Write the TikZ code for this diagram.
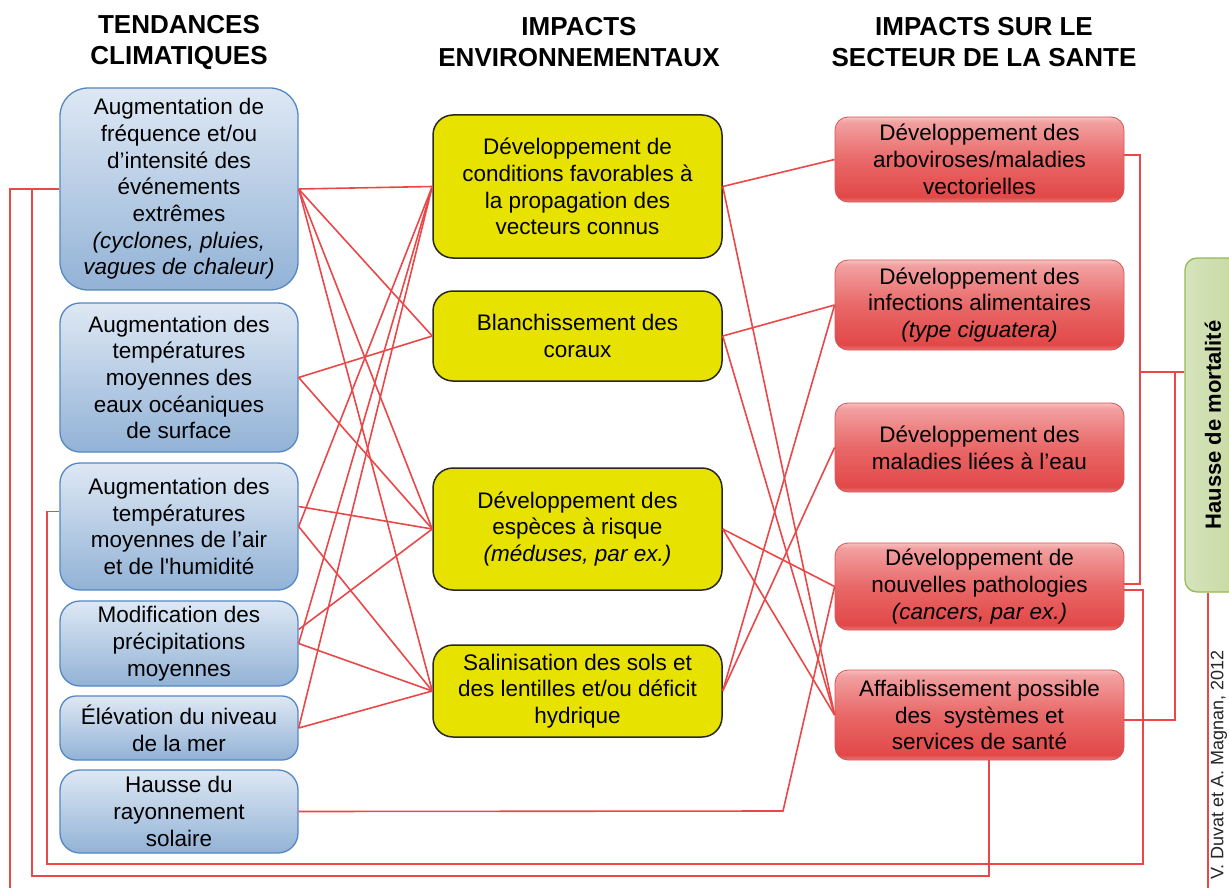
\documentclass[tikz,border=0pt]{standalone}
\usepackage{fontspec}
\setmainfont{Liberation Sans}
\definecolor{lnk}{RGB}{234,72,72}
\definecolor{ltop}{RGB}{222,232,244}
\definecolor{lbot}{RGB}{146,178,214}
\definecolor{lborder}{RGB}{84,136,196}
\definecolor{yel}{RGB}{232,226,0}
\definecolor{mborder}{RGB}{40,40,30}
\definecolor{rborder}{RGB}{214,86,86}
\definecolor{rgB}{RGB}{236,118,118}
\definecolor{rgC}{RGB}{226,72,72}
\definecolor{rgM}{RGB}{233,104,104}
\definecolor{rgT}{RGB}{242,160,160}
\definecolor{rgTT}{RGB}{247,192,192}
\definecolor{gtop}{RGB}{214,228,188}
\definecolor{gbot}{RGB}{196,215,156}
\definecolor{gborder}{RGB}{150,186,86}
\pgfdeclareverticalshading{redglass}{100bp}{color(0bp)=(rgB); color(25bp)=(rgB); color(28bp)=(rgC); color(50bp)=(rgM); color(72bp)=(rgT); color(75bp)=(rgTT); color(100bp)=(rgTT)}
\tikzset{
  basebox/.style={rectangle, align=center, inner sep=0pt, text=black,
    font=\fontsize{22.5}{26.7}\selectfont},
  lbox/.style={basebox, rounded corners=20pt, draw=lborder, line width=1.3pt,
    top color=ltop, bottom color=lbot, minimum width=238pt},
  mbox/.style={basebox, rounded corners=20pt, draw=mborder, line width=1.5pt,
    fill=yel, minimum width=289pt},
  rbox/.style={basebox, rounded corners=13pt, draw=rborder, line width=0.8pt,
    shade, shading=redglass, minimum width=289pt},
  gbox/.style={rectangle, rounded corners=12pt, draw=gborder, line width=1.3pt,
    left color=gtop, right color=gbot, inner sep=0pt},
  hdr/.style={align=center, inner sep=0pt, font=\bfseries\fontsize{26}{31}\selectfont},
  link/.style={draw=lnk, line width=1.6pt},
}
\begin{document}
\begin{tikzpicture}[x=1pt,y=-1pt]
\useasboundingbox (0,0) rectangle (1229,888);
\clip (0,0) rectangle (1229,888);
\fill[white] (0,0) rectangle (1229,888);

% headers
\node[hdr] (h1) at (179,42) {TENDANCES\\CLIMATIQUES};
\node[hdr] (h2) at (579,42) {IMPACTS\\ENVIRONNEMENTAUX};
\node[hdr] (h3) at (984,42) {IMPACTS SUR LE\\SECTEUR DE LA SANTE};

% left column
\node[lbox, minimum height=202pt, rounded corners=28pt] (L1) at (179,189)
  {Augmentation de\\fréquence et/ou\\d’intensité des\\événements\\extrêmes\\\textit{(cyclones, pluies,}\\\textit{vagues de chaleur)}};
\node[lbox, minimum height=149pt] (L2) at (179,377.5)
  {Augmentation des\\températures\\moyennes des\\eaux océaniques\\de surface};
\node[lbox, minimum height=127pt] (L3) at (179,526.5)
  {Augmentation des\\températures\\moyennes de l’air\\et de l\textquotesingle humidité};
\node[lbox, minimum height=85pt] (L4) at (179,643.5)
  {Modification des\\précipitations\\moyennes};
\node[lbox, minimum height=64pt, rounded corners=16pt] (L5) at (179,728)
  {Élévation du niveau\\de la mer};
\node[lbox, minimum height=83pt] (L6) at (179,811.5)
  {Hausse du\\rayonnement\\solaire};

% middle column
\node[mbox, minimum height=143pt] (M1) at (577.5,186.5)
  {Développement de\\conditions favorables à\\la propagation des\\vecteurs connus};
\node[mbox, minimum height=90pt] (M2) at (577.5,336)
  {Blanchissement des\\coraux};
\node[mbox, minimum height=122pt] (M3) at (577.5,529)
  {Développement des\\espèces à risque\\\textit{(méduses, par ex.)}};
\node[mbox, minimum height=92pt] (M4) at (577.5,691)
  {Salinisation des sols et\\des lentilles et/ou déficit\\hydrique};

% right column
\node[rbox, minimum height=85pt] (R1) at (979.5,159.5)
  {Développement des\\arboviroses/maladies\\vectorielles};
\node[rbox, minimum height=90pt] (R2) at (979.5,305)
  {Développement des\\infections alimentaires\\\textit{(type ciguatera)}};
\node[rbox, minimum height=89pt] (R3) at (979.5,447.5)
  {Développement des\\maladies liées à l’eau};
\node[rbox, minimum height=87pt] (R4) at (979.5,586.5)
  {Développement de\\nouvelles pathologies\\\textit{(cancers, par ex.)}};
\node[rbox, minimum height=90pt] (R5) at (979.5,715)
  {Affaiblissement possible\\des\ \ systèmes et\\services de santé};

% mortality box
\node[gbox, minimum width=62pt, minimum height=334pt] (G) at (1216,425) {};
\node[rotate=90, inner sep=0pt, font=\bfseries\fontsize{22}{26}\selectfont] (Gt) at (1213,425) {Hausse de mortalité};

% credit
\node[rotate=90, inner sep=0pt, text=black!85, font=\fontsize{18}{22}\selectfont] (cr) at (1219,765) {V. Duvat et A. Magnan, 2012};

% anchor points
\coordinate (L3u) at ([yshift=20pt]L3.east);
\coordinate (L4u) at ([yshift=14pt]L4.east);
\coordinate (L3w) at ([yshift=15pt]L3.west);
\coordinate (R1r) at ([yshift=4.5pt]R1.east);
\coordinate (R4a) at ([yshift=2.5pt]R4.east);
\coordinate (R4b) at ([yshift=-3.5pt]R4.east);
\coordinate (R5r) at ([yshift=-5pt]R5.east);
\coordinate (R5b) at ([xshift=9.5pt]R5.south);
\coordinate (Gw) at ([yshift=53pt]G.west);
\coordinate (Gs) at ([xshift=-8pt]G.south);
\coordinate (e1) at (10,895);
\coordinate (e2) at (1208,895);

% left -> middle
\draw[link] (L1.east) -- (M1.west);
\draw[link] (L1.east) -- (M2.west);
\draw[link] (L1.east) -- (M3.west);
\draw[link] (L1.east) -- (M4.west);
\draw[link] (L2.east) -- (M2.west);
\draw[link] (L2.east) -- (M3.west);
\draw[link] (L3u) -- (M3.west);
\draw[link] (L3.east) -- (M1.west);
\draw[link] (L3.east) -- (M4.west);
\draw[link] (L4u) -- (M3.west);
\draw[link] (L4.east) -- (M1.west);
\draw[link] (L4.east) -- (M4.west);
\draw[link] (L5.east) -- (M1.west);
\draw[link] (L5.east) -- (M4.west);

% middle -> right
\draw[link] (M1.east) -- (R1.west);
\draw[link] (M1.east) -- (R5.west);
\draw[link] (M2.east) -- (R2.west);
\draw[link] (M2.east) -- (R5.west);
\draw[link] (M3.east) -- (R4.west);
\draw[link] (M3.east) -- (R5.west);
\draw[link] (M4.east) -- (R2.west);
\draw[link] (M4.east) -- (R3.west);
\draw[link] (L6.east) -- (783,811) -- (R4.west);

% right brackets
\draw[link] (R1r) -- (1140,155) -- (1140,584) -- (R4a);
\draw[link] (Gw) -- (1140,372);
\draw[link] (Gw) -- (1175,372) -- (1175,720) -- (R5r);

% loops
\draw[link] (R4b) -- (1143,590) -- (1143,864) -- (47,864) -- (47,511.5) -- (L3w);
\draw[link] (L1.west) -- (32,189) -- (32,876) -- (989,876) -- (R5b);
\draw[link] (L1.west) -- (10,189) -- (e1);
\draw[link] (Gs) -- (e2);
\end{tikzpicture}
\end{document}
